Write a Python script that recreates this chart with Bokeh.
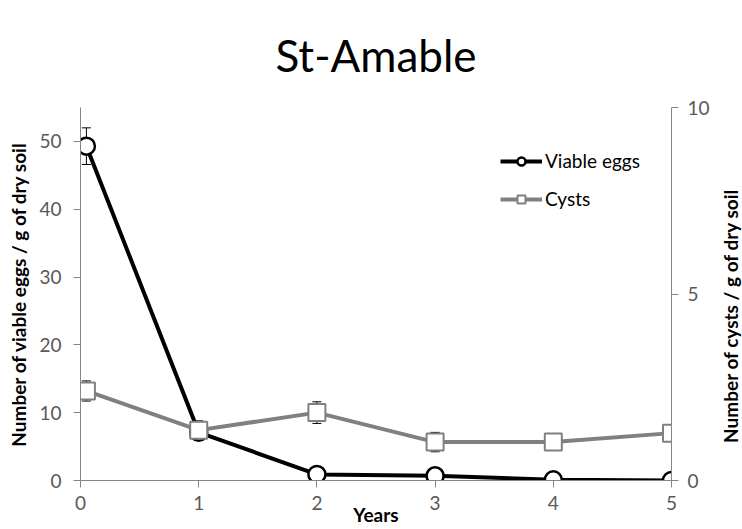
import math
from bokeh.plotting import figure
from bokeh.layouts import row
from bokeh.models import Range1d, LinearAxis, Legend, LegendItem, FixedTicker
from bokeh.core.properties import value
from bokeh.embed import file_html
from bokeh.resources import INLINE

years = [0.05, 1, 2, 3, 4, 5]
eggs = [49.3, 7.1, 0.9, 0.7, 0.1, 0.0]
eggs_err = [2.7, 0.6, 0.2, 0.2, 0.1, 0.0]
cysts = [2.4, 1.35, 1.82, 1.03, 1.03, 1.27]
cysts_err = [0.27, 0.25, 0.29, 0.26, 0.0, 0.0]
x_ticks = [0, 1, 2, 3, 4, 5]
left_ticks = [0, 10, 20, 30, 40, 50]
right_ticks = [0, 5, 10]
right_label = "Number of cysts / g of dry soil"

FONT = "Lato"
AX = "#868686"
TXT = "#595959"

p = figure(width=712, height=529, x_range=Range1d(0, 5), y_range=Range1d(0, 55),
           output_backend="svg", toolbar_location=None,
           min_border_left=80, min_border_right=38, min_border_top=107, min_border_bottom=49,
           outline_line_color=None, title="St-Amable")
p.extra_y_ranges = {"right": Range1d(0, 10)}
p.grid.visible = False

p.title.text_font = FONT
p.title.text_font_size = "44px"
p.title.text_font_style = "normal"
p.title.text_color = "black"
p.title.align = "center"
p.title.offset = -5
p.title.standoff = 53

ax2 = LinearAxis(y_range_name="right")
p.add_layout(ax2, "right")

p.xaxis.ticker = FixedTicker(ticks=x_ticks)
p.yaxis[0].ticker = FixedTicker(ticks=left_ticks)
ax2.ticker = FixedTicker(ticks=right_ticks)
p.yaxis[0].axis_label = "Number of viable eggs / g of dry soil"
p.xaxis.axis_label = "Years"

for ax in [p.xaxis[0], p.yaxis[0], ax2]:
    ax.axis_line_color = AX
    ax.major_tick_line_color = AX
    ax.minor_tick_line_color = None
    ax.major_tick_in = 0
    ax.major_tick_out = 7
    ax.major_label_text_font = FONT
    ax.major_label_text_font_size = "19px"
    ax.major_label_text_color = TXT
    ax.axis_label_text_font = FONT
    ax.axis_label_text_font_size = "19px"
    ax.axis_label_text_font_style = "bold"
    ax.axis_label_text_color = "black"

p.xaxis[0].major_label_standoff = 8
p.xaxis[0].axis_label_standoff = -10
p.yaxis[0].major_label_standoff = 12
p.yaxis[0].axis_label_standoff = 6
ax2.major_label_standoff = 9

# error bars
e_lo = [v - e for v, e in zip(eggs, eggs_err)]
e_hi = [v + e for v, e in zip(eggs, eggs_err)]
c_lo = [v - e for v, e in zip(cysts, cysts_err)]
c_hi = [v + e for v, e in zip(cysts, cysts_err)]

p.segment(x0=years, y0=c_lo, x1=years, y1=c_hi, line_color="black", line_width=1, y_range_name="right")
p.scatter(x=years + years, y=c_lo + c_hi, marker="dash", size=9, line_color="black", line_width=1, y_range_name="right")
p.segment(x0=years, y0=e_lo, x1=years, y1=e_hi, line_color="black", line_width=1)
p.scatter(x=years + years, y=e_lo + e_hi, marker="dash", size=9, line_color="black", line_width=1)

c_line = p.line(years, cysts, line_color="#808080", line_width=4, y_range_name="right")
e_line = p.line(years, eggs, line_color="black", line_width=4)
e_pts = p.scatter(years, eggs, marker="circle", size=17, fill_color="white", line_color="black", line_width=2.5)
c_pts = p.scatter(years, cysts, marker="square", size=17, fill_color="white", line_color="#808080", line_width=2, y_range_name="right")

legend = Legend(items=[LegendItem(label="Viable eggs", renderers=[e_line, e_pts]),
                       LegendItem(label="Cysts", renderers=[c_line, c_pts])],
                location=(420, 270), glyph_width=42, glyph_height=20, label_height=20,
                spacing=15, padding=0, margin=0, border_line_color=None,
                background_fill_alpha=0, label_text_font=FONT, label_text_font_size="19px",
                label_standoff=3, label_text_color="black")
p.add_layout(legend, "center")

# narrow strip holding the right axis title (reads bottom to top)
p2 = figure(width=30, height=529, x_range=Range1d(0, 30), y_range=Range1d(0, 529),
            output_backend="svg", toolbar_location=None, min_border=0,
            x_axis_type=None, y_axis_type=None, outline_line_color=None)
p2.grid.visible = False
p2.text(x=[18], y=[234], text=[right_label], angle=math.pi / 2,
        text_font=value(FONT), text_font_style="bold", text_font_size="19px",
        text_align="center", text_baseline="middle", text_color="black")

layout = row(p, p2, spacing=0)
open("out.html", "w").write(file_html(layout, INLINE))
